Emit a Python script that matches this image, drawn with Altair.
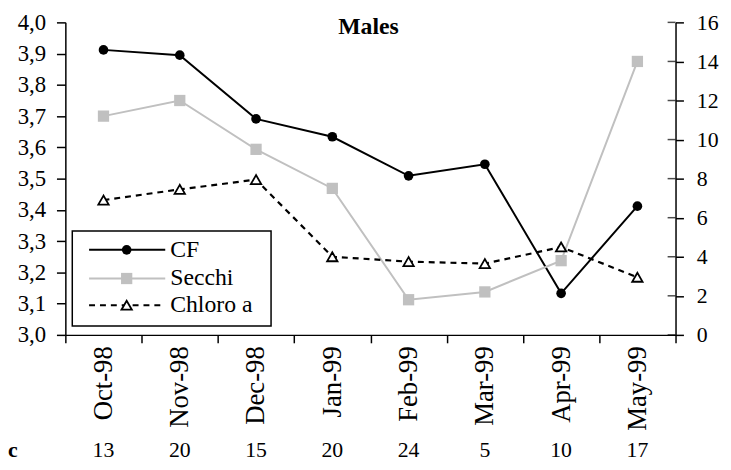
import altair as alt
import pandas as pd

months = ["Oct-98", "Nov-98", "Dec-98", "Jan-99", "Feb-99", "Mar-99", "Apr-99", "May-99"]
cf = [3.912, 3.895, 3.691, 3.634, 3.509, 3.546, 3.133, 3.412]
secchi = [11.2, 12.0, 9.5, 7.5, 1.8, 2.2, 3.8, 14.0]
chloro = [6.9, 7.45, 7.95, 4.0, 3.75, 3.65, 4.5, 2.95]
n_counts = [13, 20, 15, 20, 24, 5, 10, 17]
left_ticks = [3.0, 3.1, 3.2, 3.3, 3.4, 3.5, 3.6, 3.7, 3.8, 3.9, 4.0]
right_ticks = [0, 2, 4, 6, 8, 10, 12, 14, 16]

df = pd.DataFrame({
    "i": list(range(len(months))),
    "month": months,
    "cf": cf,
    "secchi": secchi,
    "chloro": chloro,
    "n": [str(v) for v in n_counts],
})
rt = pd.DataFrame({"v": right_ticks})

FONT = "Liberation Serif"
W, H = 617, 316
GRAY = "#c0c0c0"

boundaries = [k - 0.5 for k in range(len(months) + 1)]
month_js = "[" + ",".join("'%s'" % m for m in months) + "]"
x_axis = alt.Axis(
    values=boundaries, tickSize=8, tickColor="black", tickWidth=1.5,
    domainColor="black", domainWidth=1.5, grid=False, title=None,
    labelAngle=-90, labelAlign="right", labelBaseline="middle",
    labelOffset=W / len(months) / 2, labelPadding=3,
    labelFont=FONT, labelFontSize=27, labelColor="black",
    labelExpr="datum.value > %d ? '' : %s[datum.value + 0.5]" % (len(months) - 1, month_js),
)
x_enc = alt.X("i:Q", scale=alt.Scale(domain=[-0.5, len(months) - 0.5], nice=False, zero=False), axis=x_axis)

left_axis = alt.Axis(
    orient="left", values=left_ticks, tickSize=9, tickColor="black", tickWidth=1.5,
    domainColor="black", domainWidth=1.5, grid=False, title=None,
    labelExpr="replace(format(datum.value, '.1f'), '.', ',')",
    labelFont=FONT, labelFontSize=23, labelColor="black", labelPadding=11,
)
right_axis = alt.Axis(
    orient="right", values=right_ticks, tickSize=8, tickColor="black", tickWidth=1.5,
    domainColor="black", domainWidth=1.5, grid=False, title=None,
    labelFont=FONT, labelFontSize=22, labelColor="black", labelPadding=13,
)
lscale = alt.Scale(domain=[3.0, 4.0], nice=False, zero=False)
rscale = alt.Scale(domain=[0, 16], nice=False, zero=False)

base = alt.Chart(df)

cf_line = base.mark_line(color="black", strokeWidth=2).encode(x=x_enc, y=alt.Y("cf:Q", scale=lscale, axis=left_axis))
cf_pts = base.mark_point(shape="circle", filled=True, color="black", size=95, opacity=1).encode(
    x=x_enc, y=alt.Y("cf:Q", scale=lscale, axis=left_axis))
left_group = alt.layer(cf_line, cf_pts)

se_line = base.mark_line(color=GRAY, strokeWidth=2).encode(x=x_enc, y=alt.Y("secchi:Q", scale=rscale, axis=right_axis))
se_pts = base.mark_point(shape="square", filled=True, color=GRAY, size=130, opacity=1).encode(
    x=x_enc, y=alt.Y("secchi:Q", scale=rscale, axis=right_axis))
ch_line = base.mark_line(color="black", strokeWidth=2.2, strokeDash=[6, 5]).encode(
    x=x_enc, y=alt.Y("chloro:Q", scale=rscale, axis=right_axis))
ch_pts = base.mark_point(shape="triangle-up", filled=False, fill="white", color="black",
                         strokeWidth=1.8, size=110, opacity=1).encode(
    x=x_enc, y=alt.Y("chloro:Q", scale=rscale, axis=right_axis))
inner_ticks = alt.Chart(rt).mark_tick(color="black", thickness=1.5, size=8).encode(
    y=alt.Y("v:Q", scale=rscale, axis=right_axis), x=alt.value(W - 4))
right_group = alt.layer(se_line, se_pts, ch_line, ch_pts, inner_ticks)

# bottom row of counts
n_text = base.mark_text(font=FONT, fontSize=22, color="black", baseline="middle").encode(
    x=x_enc, y=alt.value(H + 116), text="n:N")
c_text = alt.Chart(pd.DataFrame({"t": ["c"]})).mark_text(
    font=FONT, fontSize=22, fontWeight="bold", color="black", align="left", baseline="middle").encode(
    x=alt.value(-58), y=alt.value(H + 116), text="t:N")

# title
title_text = alt.Chart(pd.DataFrame({"t": ["Males"]})).mark_text(
    font=FONT, fontSize=24, fontWeight="bold", color="black", align="center", baseline="alphabetic").encode(
    x=alt.value(W / 2 - 2), y=alt.value(12), text="t:N")

# legend
leg = pd.DataFrame({"d": [0]})
lb = alt.Chart(leg)
box = lb.mark_rect(fill="white", stroke="black", strokeWidth=1.5).encode(
    x=alt.value(7), x2=alt.value(208), y=alt.value(211), y2=alt.value(307))
ly = [230, 259, 286]
l1 = lb.mark_rule(color="black", strokeWidth=2).encode(x=alt.value(24), x2=alt.value(101), y=alt.value(ly[0]))
p1 = lb.mark_point(shape="circle", filled=True, color="black", size=95, opacity=1).encode(x=alt.value(62), y=alt.value(ly[0]))
l2 = lb.mark_rule(color=GRAY, strokeWidth=2).encode(x=alt.value(24), x2=alt.value(101), y=alt.value(ly[1]))
p2 = lb.mark_point(shape="square", filled=True, color=GRAY, size=130, opacity=1).encode(x=alt.value(62), y=alt.value(ly[1]))
l3 = lb.mark_rule(color="black", strokeWidth=2.2, strokeDash=[6, 5]).encode(x=alt.value(24), x2=alt.value(101), y=alt.value(ly[2]))
p3 = lb.mark_point(shape="triangle-up", filled=False, fill="white", color="black", strokeWidth=1.8, size=110, opacity=1).encode(
    x=alt.value(62), y=alt.value(ly[2]))
labels = ["CF", "Secchi", "Chloro a"]
lt = [lb.mark_text(font=FONT, fontSize=24, color="black", align="left", baseline="middle").encode(
    x=alt.value(106), y=alt.value(ly[k]), text=alt.value(labels[k])) for k in range(3)]

chart = alt.layer(
    left_group, right_group, n_text, c_text, title_text,
    box, l1, l2, l3, p1, p2, p3, *lt
).resolve_scale(y="independent").properties(
    width=W, height=H, autosize="none", background="white",
    padding={"left": 58, "top": 12, "right": 48, "bottom": 126},
).configure(font=FONT).configure_view(stroke=None)

chart.save("out.html", embed_options={"renderer": "svg", "actions": False})
